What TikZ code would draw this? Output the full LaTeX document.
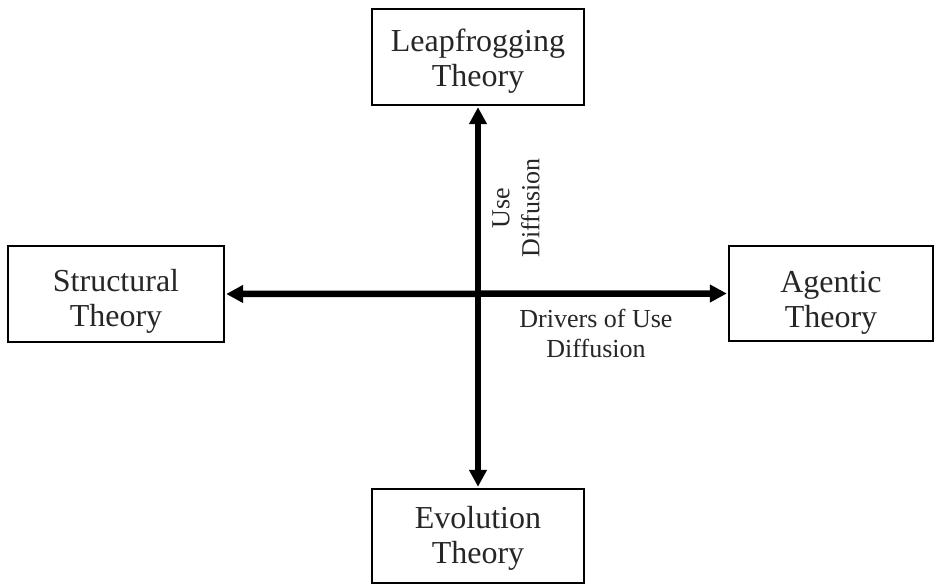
\documentclass[tikz,border=0pt]{standalone}
\usepackage{fontspec}
\setmainfont{Liberation Serif}
\usetikzlibrary{arrows.meta}
\begin{document}
\begin{tikzpicture}[x=1pt,y=-1pt,
  theorybox/.style={draw=black, line width=2.4pt, inner sep=0pt},
  boxtext/.style={font=\fontsize{32}{35}\selectfont, align=center, inner sep=0pt, text=black!85},
  axislbl/.style={font=\fontsize{26}{30}\selectfont, align=center, inner sep=0pt, text=black!85},
  axisarrow/.style={line width=6.5pt, {Triangle[length=17pt,width=17pt]}-{Triangle[length=17pt,width=17pt]}, shorten <=1pt, shorten >=1pt}
]
\useasboundingbox (0,0) rectangle (936,585);
% boxes
\node[theorybox, minimum width=212pt, minimum height=96pt] (leap) at (478,57) {};
\node[boxtext] (leapt) at (478,61.5) {Leapfrogging\\Theory};
\node[theorybox, minimum width=216pt, minimum height=96pt] (struct) at (116,294) {};
\node[boxtext] (structt) at (116,301.5) {Structural\\Theory};
\node[theorybox, minimum width=204pt, minimum height=95pt] (agent) at (831,293.5) {};
\node[boxtext] (agentt) at (831,302.5) {Agentic\\Theory};
\node[theorybox, minimum width=212pt, minimum height=94pt] (evol) at (478,536) {};
\node[boxtext] (evolt) at (478,538) {Evolution\\Theory};
% axes
\draw[axisarrow] (leap.south) -- (evol.north);
\draw[axisarrow] (struct.east) -- (agent.west);
% labels
\node[axislbl, rotate=90] (usediff) at (516,208) {Use\\Diffusion};
\node[axislbl] (drivers) at (596,333) {Drivers of Use\\Diffusion};
\end{tikzpicture}
\end{document}
